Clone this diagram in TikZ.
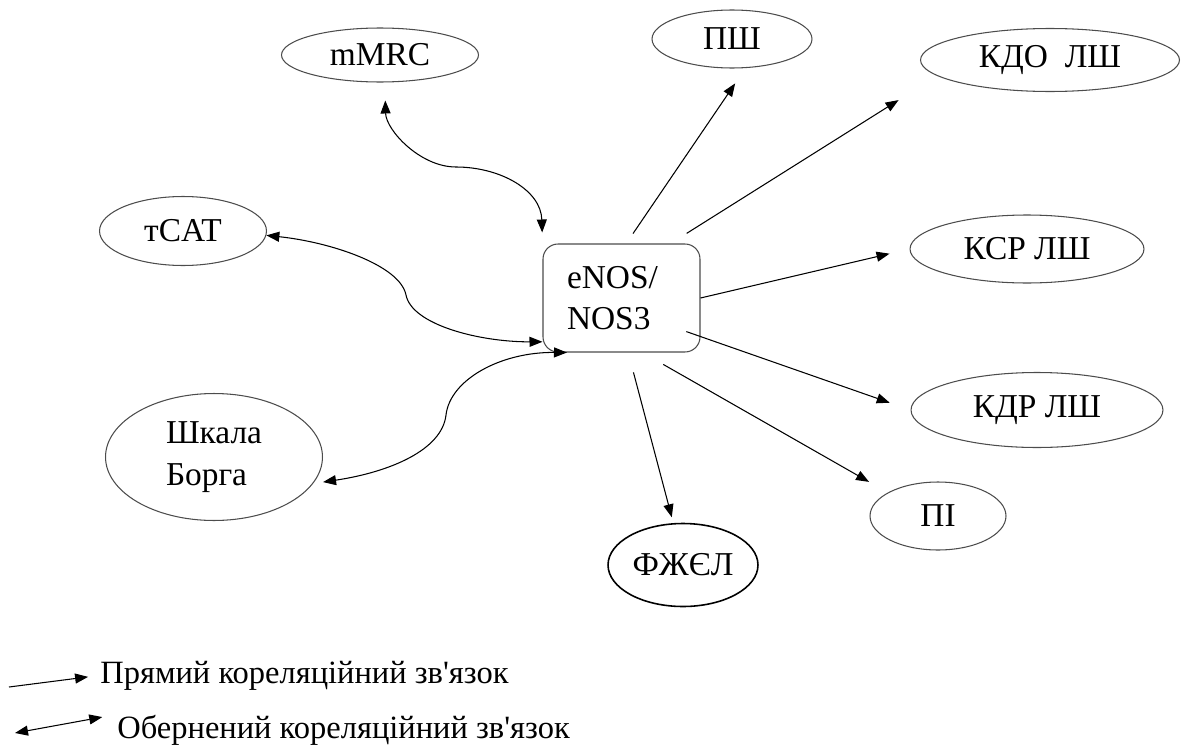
\documentclass[tikz,border=0pt]{standalone}
\usepackage{fontspec}
\setmainfont{Liberation Serif}
\usetikzlibrary{shapes.geometric,arrows.meta}

\begin{document}
\begin{tikzpicture}
      [x=0.02cm, y=-0.02cm,
      oval/.style={ellipse, draw=black!70, line width=0.6pt, inner sep=0pt, align=left,
        font=\fontsize{19}{23.5}\selectfont},
      hub/.style={rectangle, rounded corners=0.3cm, draw=black!70, line width=0.6pt,
        minimum width=3.14cm, minimum height=2.16cm, text width=2.18cm, inner xsep=0.48cm,
        align=left, font=\fontsize{19}{23.5}\selectfont},
      arr/.style={-{Triangle[length=0.26cm,width=0.2cm]}, line width=0.6pt},
      biarr/.style={{Triangle[length=0.26cm,width=0.2cm]}-{Triangle[length=0.26cm,width=0.2cm]}, line width=0.6pt},
      legend/.style={inner sep=0pt, font=\fontsize{18.5}{22}\selectfont},
      ]
      \useasboundingbox (0,0) rectangle (1183,747);
      \node[hub] (box) at (621.5,298) {eNOS/\\NOS3};
      \node[oval, minimum width=3.94cm, minimum height=1.08cm] (mmrc) at (380,55) {mMRC};
      \node[oval, minimum width=3.34cm, minimum height=1.38cm] (tcat) at (183,231) {тCAT};
      \node[oval, minimum width=4.34cm, minimum height=2.54cm] (borg) at (214,457) {Шкала\\Борга};
      \node[oval, minimum width=3.2cm, minimum height=1.16cm] (psh) at (732,39) {ПШ};
      \node[oval, minimum width=5.18cm, minimum height=1.26cm] (kdo) at (1050,60) {КДО~~ЛШ};
      \node[oval, minimum width=4.68cm, minimum height=1.36cm] (ksr) at (1027,249) {КСР ЛШ};
      \node[oval, minimum width=5.04cm, minimum height=1.5cm] (kdr) at (1037,410) {КДР ЛШ};
      \node[oval, minimum width=2.72cm, minimum height=1.36cm] (pi) at (938,516) {ПІ};
      \node[oval, draw=black, line width=0.9pt, minimum width=3cm, minimum height=1.66cm] (fev) at (683,565) {ФЖЄЛ};
      % inverse links
      \draw[biarr, shorten <=0.36cm, shorten >=0.22cm] (mmrc.-80) .. controls (386,130) and (420,167) .. (456,167)
        .. controls (500,167) and (541,190) .. (box.north west);
      \draw[biarr] (tcat.-3) .. controls (330,242) and (400,265) .. (406,295)
        .. controls (412,325) and (480,342) .. (box.209);
      \draw[biarr, shorten <=0.2cm] (borg.-15) .. controls (390,472) and (442,450) .. (446,415)
        .. controls (450,380) and (500,352) .. (box.225);
      % direct links
      \draw[arr, shorten <=0.24cm, shorten >=0.37cm] (box.85) -- (psh.-65);
      \draw[arr, shorten <=0.38cm, shorten >=0.91cm] (box.48) -- (kdo.188);
      \draw[arr, shorten >=0.41cm] (box.east) -- (ksr.west);
      \draw[arr, shorten <=-0.3cm, shorten >=0.44cm] (box.-26) -- (kdr.west);
      \draw[arr, shorten <=0.48cm, shorten >=0.43cm] (box.-69) -- (pi.155);
      \draw[arr, shorten <=0.41cm, shorten >=0.12cm] (box.-83) -- (fev.103);
      % legend
      \node[legend, anchor=base west] (direct) at (100,683) {Прямий кореляційний зв\textquotesingle{}язок};
      \node[legend, anchor=base west] (inverse) at (117,738) {Обернений кореляційний зв\textquotesingle{}язок};
      \coordinate (d0) at (9,687);
      \coordinate (i0) at (15,733);
      \draw[arr, shorten >=0.24cm] (d0) -- (direct.west);
      \draw[biarr, shorten >=0.3cm] (i0) -- (inverse.north west);
\end{tikzpicture}
\end{document}
